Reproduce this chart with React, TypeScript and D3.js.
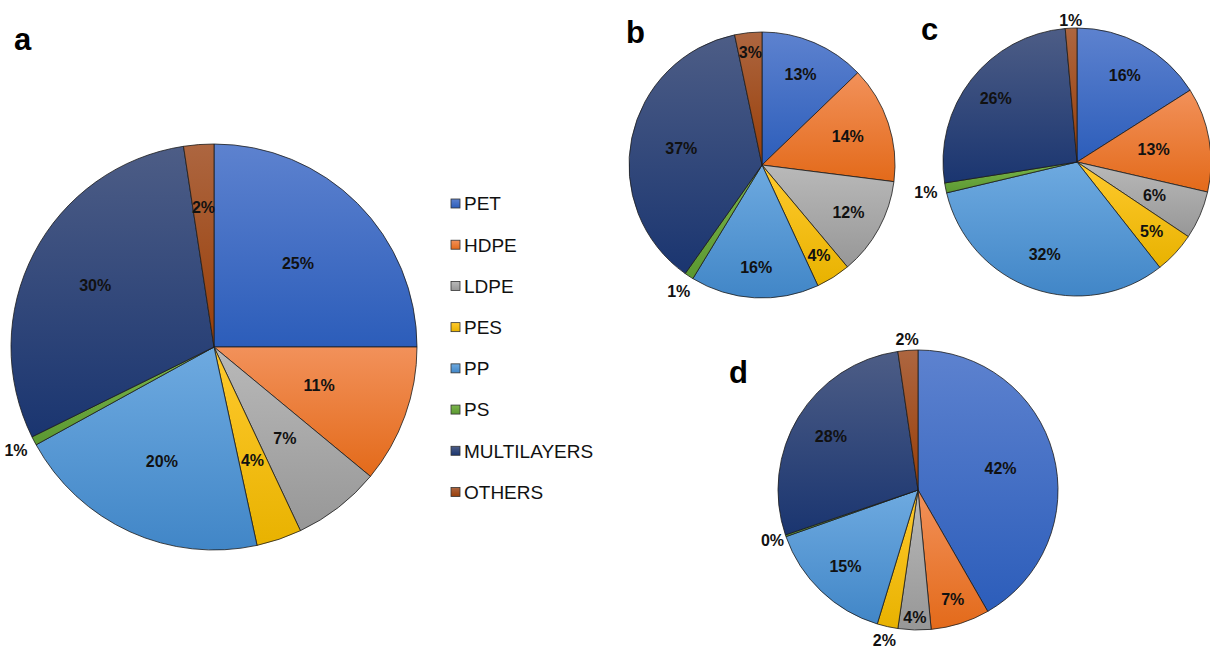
import React from "react";
import * as d3 from "d3";

// Polymer categories shared by every panel
const CATEGORIES = ["PET", "HDPE", "LDPE", "PES", "PP", "PS", "MULTILAYERS", "OTHERS"];

// Share of each polymer (%), one array per panel
const SHARE_A = [25.0, 11.0, 7.0, 3.6, 20.4, 0.7, 29.9, 2.4];
const SHARE_B = [12.8, 14.2, 11.9, 4.2, 15.6, 1.1, 36.9, 3.3];
const SHARE_C = [16.0, 12.6, 5.8, 5.0, 31.9, 1.2, 26.1, 1.4];
const SHARE_D = [41.7, 6.8, 3.8, 2.4, 14.9, 0.2, 27.9, 2.3];

// Gradient stops (top, bottom) per category
const FILL_TOP = ["#5d82cf", "#f2915a", "#b9b9b9", "#ffca2e", "#6eaae0", "#7cb64c", "#4d5d86", "#ad6640"];
const FILL_BOTTOM = ["#2c5dba", "#e36a1a", "#979797", "#e8b200", "#4186c7", "#5b9831", "#1a3570", "#983e08"];

// Panel layout: centre, radius and label distance (fraction of radius) per slice
const PANELS = [
  { key: "a", values: SHARE_A, cx: 214, cy: 347, r: 203, lx: 14, ly: 50,
    labelR: [0.585, 0.55, 0.57, 0.59, 0.62, 1.1, 0.66, 0.69] },
  { key: "b", values: SHARE_B, cx: 762, cy: 165, r: 133, lx: 626, ly: 43,
    labelR: [0.74, 0.68, 0.74, 0.8, 0.77, 1.14, 0.62, 0.85] },
  { key: "c", values: SHARE_C, cx: 1077, cy: 162, r: 134, lx: 921, ly: 40,
    labelR: [0.74, 0.58, 0.63, 0.76, 0.73, 1.15, 0.77, 1.06] },
  { key: "d", values: SHARE_D, cx: 918, cy: 490, r: 140, lx: 729, ly: 383,
    labelR: [0.61, 0.82, 0.91, 1.1, 0.75, 1.1, 0.73, 1.08] },
];

const FONT = "'Liberation Sans', Arial, Helvetica, sans-serif";

function Pie({ panel }: { panel: typeof PANELS[number] }) {
  const pie = d3.pie<number>().sort(null).value((d) => d);
  const arcs = pie(panel.values);
  const arc = d3.arc<d3.PieArcDatum<number>>().innerRadius(0).outerRadius(panel.r);
  return (
    <g>
      <g transform={`translate(${panel.cx},${panel.cy})`}>
        {arcs.map((a, i) => (
          <path
            key={CATEGORIES[i]}
            d={arc(a) || ""}
            fill={`url(#grad-${i})`}
            stroke="#1c1c1c"
            strokeWidth={0.8}
            strokeLinejoin="round"
          />
        ))}
        {arcs.map((a, i) => {
          const mid = (a.startAngle + a.endAngle) / 2;
          const rr = panel.r * panel.labelR[i];
          return (
            <text
              key={"l" + i}
              x={rr * Math.sin(mid)}
              y={-rr * Math.cos(mid)}
              dy="0.36em"
              textAnchor="middle"
              fontFamily={FONT}
              fontWeight="bold"
              fontSize={16}
              fill="#111"
            >
              {`${Math.round(a.data)}%`}
            </text>
          );
        })}
      </g>
      <text x={panel.lx} y={panel.ly} fontFamily={FONT} fontWeight="bold" fontSize={31} fill="#000">
        {panel.key}
      </text>
    </g>
  );
}

export default function App() {
  const legendY = d3.scalePoint<string>().domain(CATEGORIES).range([203.5, 492]);
  return (
    <svg
      width={1210}
      height={649}
      viewBox="0 0 1210 649"
      style={{ position: "absolute", left: 0, top: 0, background: "#fff" }}
    >
      <defs>
        {CATEGORIES.map((c, i) => (
          <linearGradient key={c} id={`grad-${i}`} x1="0" y1="0" x2="0" y2="1">
            <stop offset="0%" stopColor={FILL_TOP[i]} />
            <stop offset="100%" stopColor={FILL_BOTTOM[i]} />
          </linearGradient>
        ))}
      </defs>
      <rect width={1210} height={649} fill="#fff" />
      {PANELS.map((p) => (
        <Pie key={p.key} panel={p} />
      ))}
      <g>
        {CATEGORIES.map((c, i) => {
          const y = legendY(c) as number;
          return (
            <g key={c}>
              <rect x={451} y={y - 4.5} width={9} height={9} fill={`url(#grad-${i})`} stroke="#333" strokeWidth={0.8} />
              <text x={464} y={y} dy="0.36em" fontFamily={FONT} fontSize={19} fill="#111">
                {c}
              </text>
            </g>
          );
        })}
      </g>
    </svg>
  );
}
